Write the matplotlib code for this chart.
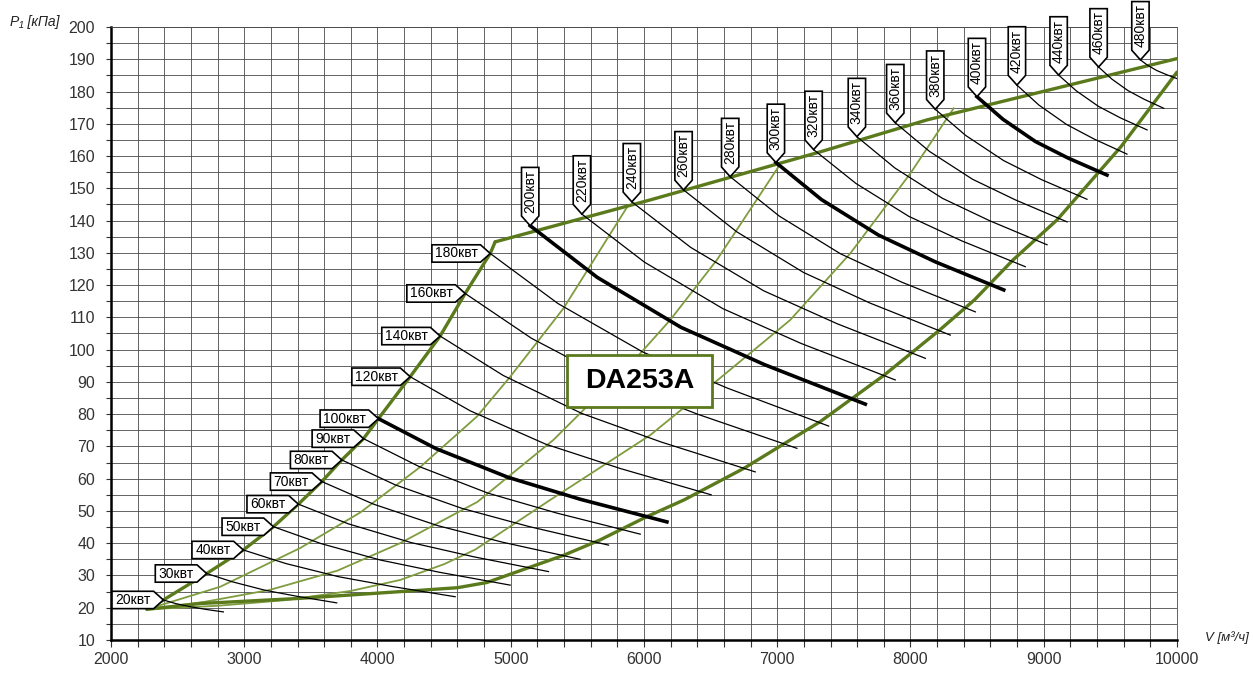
import matplotlib
matplotlib.use("Agg")
import matplotlib.pyplot as plt
from matplotlib.patches import Polygon, Rectangle
from matplotlib.transforms import ScaledTranslation
from matplotlib.ticker import MultipleLocator

plt.rcParams["font.family"] = ["Liberation Sans", "DejaVu Sans"]

# operating envelope of the DA253A (V in m3/h, P1 in kPa)
left_edge_x = [2270, 2393, 2718, 2993, 3219, 3406, 3582, 3732, 3895, 4007, 4245, 4470, 4658, 4846, 4883]
left_edge_y = [19.5, 22.4, 30.6, 37.9, 45.1, 52.1, 59.1, 65.8, 72.4, 78.6, 91.6, 104.2, 117.4, 129.8, 133.4]
top_edge_x = [4883, 6047, 7323, 8124, 10000]
top_edge_y = [133.4, 146.4, 161.3, 171.2, 190.2]
low_edge_x = [2270, 2670, 3420, 4320, 4600, 4820, 5120, 5400, 5670, 6020, 6300, 6750, 7320,
              7800, 8220, 8480, 8770, 9100, 9580, 10000]
low_edge_y = [19.5, 21.3, 22.9, 25.4, 26.2, 27.8, 32.2, 36.3, 41.0, 48.2, 53.4, 63.2, 77.6,
              92.0, 106.1, 115.4, 127.8, 140.2, 162.9, 186.0]

# thin green curves inside the envelope
mid_a_x = [2270, 2820, 3420, 3870, 4320, 4745, 4996, 5396, 5872]
mid_a_y = [19.5, 26.5, 38.5, 49.5, 63.6, 79.2, 91.6, 112.8, 144.1]
mid_b_x = [2270, 2700, 3190, 3700, 4170, 4750, 5320, 5972, 6197, 6547, 7010]
mid_b_y = [19.5, 21.8, 25.5, 31.5, 40.0, 52.8, 72.0, 98.8, 109.2, 127.8, 156.7]
mid_c_x = [2270, 2800, 3300, 3800, 4170, 4500, 4733, 5296, 6047, 6522, 7098, 7548, 7999, 8324]
mid_c_y = [19.5, 20.6, 22.3, 25.2, 28.6, 33.5, 38.0, 53.4, 73.5, 89.5, 109.2, 129.8, 154.6, 174.8]

# constant power lines, kW
power_kw = [20, 30, 40, 50, 60, 70, 80, 90, 100, 120, 140, 160, 180,
            200, 220, 240, 260, 280, 300, 320, 340, 360, 380, 400, 420, 440, 460, 480]
bold_kw = [100, 200, 300, 400]
power_x = [
    [2393, 2483, 2596, 2708, 2843],
    [2718, 2913, 3157, 3401, 3694],
    [2993, 3311, 3709, 4106, 4583],
    [3219, 3574, 4019, 4463, 4996],
    [3406, 3781, 4251, 4720, 5283],
    [3582, 3970, 4455, 4939, 5521],
    [3732, 4132, 4633, 5133, 5734],
    [3895, 4310, 4830, 5349, 5972],
    [4007, 4440, 4981, 5523, 6172],
    [4245, 4697, 5262, 5826, 6504],
    [4470, 4943, 5534, 6126, 6835],
    [4658, 5156, 5779, 6401, 7148],
    [4846, 5354, 5989, 6624, 7386],
    [5146, 5649, 6278, 6907, 7661],
    [5534, 6004, 6592, 7180, 7886],
    [5909, 6350, 6900, 7451, 8112],
    [6297, 6697, 7198, 7698, 8299],
    [6647, 7015, 7475, 7935, 8487],
    [6990, 7332, 7760, 8187, 8700],
    [7273, 7591, 7988, 8385, 8862],
    [7598, 7883, 8240, 8597, 9025],
    [7886, 8144, 8466, 8788, 9175],
    [8186, 8414, 8699, 8983, 9325],
    [8499, 8694, 8938, 9182, 9475],
    [8799, 8964, 9171, 9377, 9625],
    [9112, 9245, 9411, 9577, 9776],
    [9412, 9510, 9632, 9754, 9901],
    [9726, 9781, 9849, 9918, 10000],
]
power_y = [
    [22.4, 21.3, 20.3, 19.5, 18.7],
    [30.6, 28.0, 25.4, 23.5, 21.5],
    [37.9, 33.7, 29.6, 26.6, 23.4],
    [45.1, 39.9, 34.8, 31.0, 27.0],
    [52.1, 46.0, 40.2, 35.8, 31.2],
    [59.1, 52.1, 45.4, 40.3, 35.0],
    [65.8, 58.1, 50.8, 45.2, 39.4],
    [72.4, 63.8, 55.5, 49.3, 42.8],
    [78.6, 69.3, 60.4, 53.6, 46.6],
    [91.6, 81.0, 70.7, 63.1, 55.0],
    [104.2, 92.0, 80.2, 71.4, 62.1],
    [117.4, 103.5, 90.0, 80.0, 69.4],
    [129.8, 114.3, 99.3, 88.1, 76.3],
    [138.4, 122.4, 106.9, 95.3, 83.1],
    [142.0, 127.1, 112.7, 101.9, 90.6],
    [145.8, 131.7, 118.2, 108.0, 97.3],
    [149.5, 136.5, 123.9, 114.4, 104.5],
    [153.6, 141.4, 129.7, 120.9, 111.7],
    [158.0, 146.5, 135.5, 127.2, 118.5],
    [162.0, 151.5, 141.3, 133.7, 125.7],
    [166.0, 156.3, 146.9, 139.9, 132.5],
    [170.3, 161.4, 152.8, 146.4, 139.6],
    [174.5, 166.4, 158.6, 152.7, 146.6],
    [178.4, 171.4, 164.5, 159.4, 154.1],
    [182.0, 175.8, 169.8, 165.3, 160.6],
    [185.1, 180.2, 175.4, 171.8, 168.1],
    [187.6, 183.9, 180.3, 177.6, 174.8],
    [189.8, 188.1, 186.5, 185.3, 184.0],
]

GREEN = "#5a7a1c"
GREEN_THIN = "#7f9c3e"

fig = plt.figure(figsize=(12.53, 6.75), dpi=100)
ax = fig.add_axes([0.0886, 0.0519, 0.8507, 0.9081])
ax.set_xlim(2000, 10000)
ax.set_ylim(10, 200)
ax.xaxis.set_major_locator(MultipleLocator(1000))
ax.xaxis.set_minor_locator(MultipleLocator(200))
ax.yaxis.set_major_locator(MultipleLocator(10))
ax.yaxis.set_minor_locator(MultipleLocator(5))
ax.grid(which="both", color="#4a4a4a", lw=0.6)
ax.set_axisbelow(True)
ax.tick_params(axis="x", which="both", direction="out", length=5, width=0.8,
               pad=4, labelsize=11.5, labelcolor="#333333", color="#333333")
ax.tick_params(axis="y", which="both", direction="out", length=3.5, width=0.8,
               pad=8, labelsize=11.5, labelcolor="#333333", color="#333333")
for side in ["left", "bottom"]:
    ax.spines[side].set_linewidth(1.8)
for side in ["top", "right"]:
    ax.spines[side].set_linewidth(0.6)
    ax.spines[side].set_color("#4a4a4a")

# envelope and inner curves
for xs, ys in [(mid_a_x, mid_a_y), (mid_b_x, mid_b_y), (mid_c_x, mid_c_y)]:
    ax.plot(xs, ys, color=GREEN_THIN, lw=1.3, zorder=3, solid_joinstyle="round")
for xs, ys in [(left_edge_x, left_edge_y), (top_edge_x, top_edge_y), (low_edge_x, low_edge_y)]:
    ax.plot(xs, ys, color=GREEN, lw=2.4, zorder=4, solid_joinstyle="round",
            solid_capstyle="round")

# power lines
for kw, xs, ys in zip(power_kw, power_x, power_y):
    lw = 2.6 if kw in bold_kw else 0.9
    ax.plot(xs, ys, color="black", lw=lw, zorder=5, solid_joinstyle="round")


def tag(x, y, text, vertical):
    trans = fig.dpi_scale_trans + ScaledTranslation(x, y, ax.transData)
    h, t = 12.5, 7.0
    w = 30.0 if len(text) <= 5 else 35.0
    if vertical:
        pts = [(-h / 2, t), (-h / 2, t + w), (h / 2, t + w), (h / 2, t), (0, 0)]
        cx, cy, rot = 0, t + w / 2, 90
    else:
        pts = [(-t - w, -h / 2), (-t - w, h / 2), (-t, h / 2), (0, 0), (-t, -h / 2)]
        cx, cy, rot = -t - w / 2, 0, 0
    pts = [(px / 72, py / 72) for px, py in pts]
    ax.add_patch(Polygon(pts, closed=True, fc="white", ec="black", lw=1.2,
                         transform=trans, zorder=7, clip_on=False))
    ax.text(cx / 72, cy / 72, text, transform=trans, ha="center", va="center",
            rotation=rot, fontsize=10, zorder=8, clip_on=False)


for kw, xs, ys in zip(power_kw, power_x, power_y):
    tag(xs[0], ys[0], f"{kw}квт", vertical=kw >= 200)

# model box
ax.add_patch(Rectangle((5421, 82.1), 1089, 16.2, fc="white", ec=GREEN, lw=2.0, zorder=7))
ax.text(5966, 90.2, "DA253A", ha="center", va="center", fontsize=20.5,
        fontweight="bold", zorder=8)

fig.text(10 / 1253, 1 - 22 / 675, "P₁ [кПа]", style="italic", fontsize=10,
         ha="left", va="center", color="#222222")
fig.text(1205 / 1253, 1 - 638 / 675, "V [м³/ч]", style="italic", fontsize=9.5,
         ha="left", va="center", color="#222222")

fig.savefig("out.png", dpi=100)
